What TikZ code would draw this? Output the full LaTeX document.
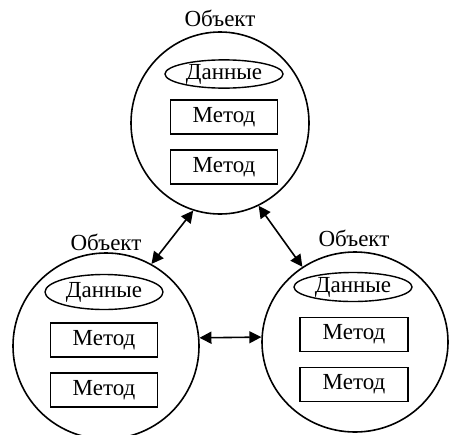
\documentclass[tikz,border=0pt]{standalone}
\usepackage{fontspec}
\setmainfont{Liberation Serif}
\usetikzlibrary{shapes.geometric,arrows.meta}
\tikzset{
  txt/.style={font=\fontsize{23}{25}\selectfont},
  obj/.style={draw, ellipse, line width=1.6pt, inner sep=0pt},
  data/.style={draw, ellipse, line width=1.4pt, minimum width=118pt, minimum height=30pt, inner sep=0pt, txt},
  meth/.style={draw, rectangle, line width=1.4pt, minimum width=107pt, minimum height=34pt, inner sep=0pt, txt},
  lbl/.style={inner sep=0pt, txt},
  link/.style={line width=1.6pt, {Triangle[length=12pt,width=12pt]}-{Triangle[length=12pt,width=12pt]}}
}
\begin{document}
\begin{tikzpicture}[x=1pt,y=-1pt]
\useasboundingbox (0,0) rectangle (449,434);
% objects
\node[obj, minimum width=178pt, minimum height=182pt] (o1) at (220,123) {};
\node[obj, minimum width=186pt, minimum height=186pt] (o2) at (106,346) {};
\node[obj, minimum width=186pt, minimum height=180pt] (o3) at (355,342) {};
% labels
\node[lbl] (l1) at (220,18) {Объект};
\node[lbl] (l2) at (106,242) {Объект};
\node[lbl] (l3) at (354,238) {Объект};
% top object
\node[data, minimum height=28pt] (d1) at (224,74) {Данные};
\node[meth] (m11) at (224,117) {Метод};
\node[meth] (m12) at (224,167) {Метод};
% left object
\node[data, minimum height=35pt] (d2) at (104,292) {Данные};
\node[meth] (m21) at (104,340) {Метод};
\node[meth] (m22) at (104,390) {Метод};
% right object
\node[data, minimum height=29pt] (d3) at (353,287) {Данные};
\node[meth, minimum width=108pt] (m31) at (354,334.5) {Метод};
\node[meth, minimum width=108pt] (m32) at (354,384.5) {Метод};
% links
\draw[link] (o1.253) -- (o2.61);
\draw[link] (o1.295) -- (o3.125.5);
\draw[link] (o2.5.5) -- (o3.177);
\end{tikzpicture}
\end{document}
